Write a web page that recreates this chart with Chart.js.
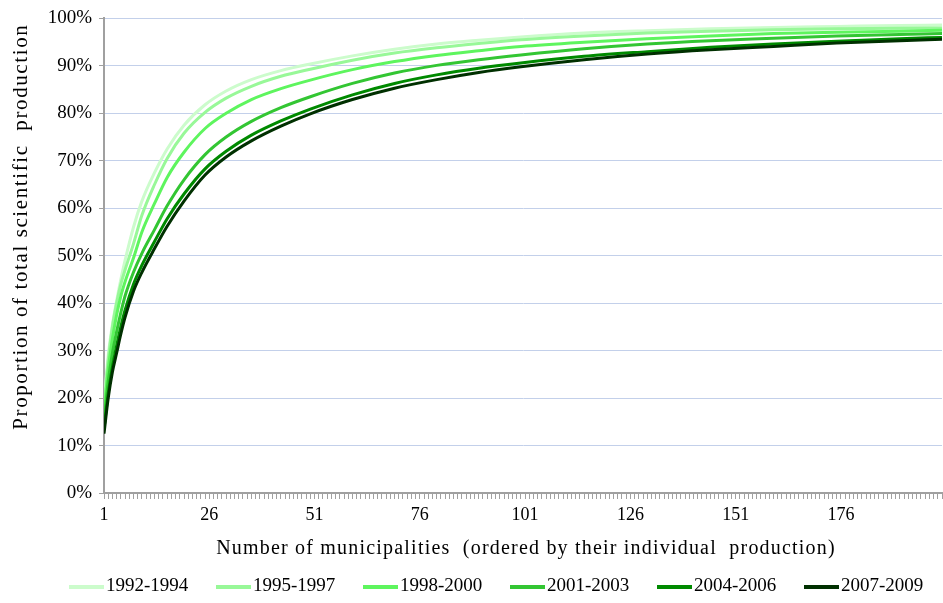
<!DOCTYPE html>
<html>
<head>
<meta charset="utf-8">
<script src="https://cdn.jsdelivr.net/npm/chart.js@4.4.1/dist/chart.umd.min.js"></script>
<style>
  html, body { margin: 0; padding: 0; background: #fff; }
  canvas { display: block; }
</style>
</head>
<body>
<canvas id="chart" width="943" height="603"></canvas>
<script>
// Cumulative share of production at these ranks.
const ranks = [1, 2, 3, 4, 5, 6, 8, 10, 13, 16, 20, 25, 30, 36, 43, 50, 60, 70, 80, 90, 100, 115, 130, 145, 160, 175, 190, 200]

const share1992 = [19, 29, 35.5, 40.5, 45, 49, 56, 61.5, 67.5, 72.5, 77.5, 81.8, 84.7, 87.1, 89, 90.4, 92.1, 93.5, 94.6, 95.4, 96.1, 96.9, 97.4, 97.8, 98.1, 98.3, 98.5, 98.6]
const share1995 = [18, 28, 35, 40, 44, 47, 52.5, 58.5, 65, 70.5, 75.8, 80.2, 83.2, 85.7, 87.8, 89.3, 91.2, 92.7, 93.8, 94.7, 95.5, 96.3, 96.9, 97.3, 97.6, 97.8, 97.9, 98]
const share1998 = [17, 26, 32.5, 37.5, 41.5, 44.5, 49.5, 55, 61, 66.5, 71.8, 76.8, 80, 82.9, 85.2, 87, 89.2, 90.9, 92.2, 93.2, 94.1, 95, 95.7, 96.3, 96.8, 97.1, 97.3, 97.5]
const share2001 = [15, 23.5, 29.5, 34, 38, 41.5, 46.5, 50.5, 55.5, 60.5, 66, 71.3, 75, 78.3, 81.2, 83.5, 86.3, 88.5, 90.1, 91.3, 92.3, 93.6, 94.6, 95.3, 95.8, 96.3, 96.6, 96.8]
const share2004 = [13.5, 21, 26.5, 31, 35, 38.5, 44, 48, 53, 57.8, 63, 68.3, 72, 75.4, 78.4, 80.9, 83.9, 86.3, 88.1, 89.5, 90.6, 92, 93, 93.9, 94.6, 95.2, 95.7, 96]
const share2007 = [12.5, 20, 25.5, 29.5, 33.5, 37, 42.5, 46.5, 51.5, 56.2, 61.5, 67, 70.8, 74.2, 77.3, 79.9, 82.9, 85.3, 87.1, 88.6, 89.8, 91.3, 92.5, 93.4, 94.1, 94.8, 95.3, 95.6]

const periods = ["1992-1994", "1995-1997", "1998-2000", "2001-2003", "2004-2006", "2007-2009"]
const colors = ["#ccfccc", "#98f898", "#5ef55e", "#33c633", "#008a00", "#003000"]
const xTickLabels = [1, 26, 51, 76, 101, 126, 151, 176]
const lastRank = 200

const xTitle = "Number of municipalities  (ordered by their individual  production)"
const yTitle = "Proportion of total scientific  production"

const SERIF = '"Liberation Serif", "Times New Roman", serif'

const seriesList = [share1992, share1995, share1998, share2001, share2004, share2007]

// Axis titles are drawn by hand: the reference spaces its letters out wider
// than Chart.js titles can.
const axisTitles = {
  id: "axisTitles",
  afterDraw(chart) {
    const { ctx, chartArea } = chart
    ctx.save()
    ctx.fillStyle = "#000"
    ctx.textAlign = "center"
    ctx.textBaseline = "middle"

    ctx.font = `20px ${SERIF}`
    ctx.letterSpacing = "1.2px"
    ctx.fillText(xTitle, (chartArea.left + chartArea.right) / 2 + 3, chartArea.bottom + 56)

    ctx.font = `21px ${SERIF}`
    ctx.letterSpacing = "1.6px"
    ctx.translate(21, (chartArea.top + chartArea.bottom) / 2 - 29)
    ctx.rotate(-Math.PI / 2)
    ctx.fillText(yTitle, 0, 0)
    ctx.letterSpacing = "0px"
    ctx.restore()
  },
}

// Excel-style legend: short thick line then label, fixed pitch along the bottom.
const bottomLegend = {
  id: "bottomLegend",
  afterDraw(chart) {
    const { ctx, chartArea } = chart
    const y = chart.height - 17
    ctx.save()
    ctx.font = `19px ${SERIF}`
    ctx.textBaseline = "middle"
    ctx.textAlign = "left"
    chart.data.datasets.forEach((ds, i) => {
      const x = chartArea.left - 35 + i * 147
      ctx.strokeStyle = ds.borderColor
      ctx.lineWidth = 4
      ctx.beginPath()
      ctx.moveTo(x, y + 1)
      ctx.lineTo(x + 35, y + 1)
      ctx.stroke()
      ctx.fillStyle = "#000"
      ctx.fillText(ds.label, x + 37, y)
    })
    ctx.restore()
  },
}

new Chart(document.getElementById("chart").getContext("2d"), {
  type: "line",
  data: {
    datasets: seriesList.map((vals, i) => ({
      label: periods[i],
      data: ranks.map((r, k) => ({ x: r, y: vals[k] })),
      borderColor: colors[i],
      backgroundColor: colors[i],
      borderWidth: 3,
      pointRadius: 0,
      cubicInterpolationMode: "monotone",
      fill: false,
      order: seriesList.length - i,
    })),
  },
  options: {
    responsive: false,
    animation: false,
    layout: { padding: { top: 17, right: 1, bottom: 40, left: 0 } },
    plugins: { legend: { display: false }, tooltip: { enabled: false } },
    scales: {
      x: {
        type: "linear",
        min: 1,
        max: lastRank,
        afterFit: (s) => {
          s.height = 70
          s.paddingLeft = 0
          s.paddingRight = 0
        },
        border: { color: "#a0a0a0", width: 2 },
        grid: { drawOnChartArea: false, drawTicks: true, tickLength: 6, tickColor: "#a0a0a0" },
        ticks: {
          stepSize: 1,
          autoSkip: false,
          maxRotation: 0,
          minRotation: 0,
          padding: 5,
          color: "#000",
          font: { family: SERIF, size: 18 },
          callback: (v) => (xTickLabels.includes(v) ? String(v) : ""),
        },
      },
      y: {
        min: 0,
        max: 100,
        afterFit: (s) => { s.width = 104 },
        border: { color: "#a0a0a0", width: 2 },
        grid: { color: "#c3d0ea", lineWidth: 1, tickLength: 5, tickColor: "#a0a0a0" },
        ticks: {
          stepSize: 10,
          padding: 7,
          color: "#000",
          font: { family: SERIF, size: 19 },
          callback: (v) => v + "%",
        },
      },
    },
  },
  plugins: [axisTitles, bottomLegend],
})
</script>
</body>
</html>
